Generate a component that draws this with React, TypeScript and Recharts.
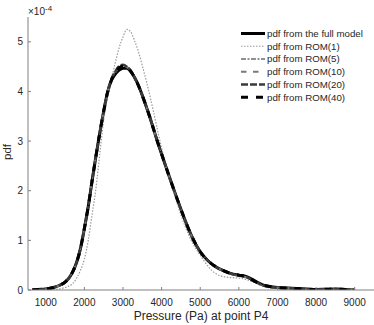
import React from 'react';
import { LineChart, Line, XAxis, YAxis, Legend } from 'recharts';

// Pressure (Pa) sample points
const pressure = [
  650, 800, 1000, 1200, 1400,
  1500, 1600, 1700, 1800, 1900,
  2000, 2100, 2200, 2300, 2400,
  2500, 2600, 2700, 2800, 2900,
  3000, 3100, 3200, 3300, 3400,
  3500, 3600, 3700, 3800, 3900,
  4000, 4200, 4400, 4600, 4800,
  5000, 5200, 5400, 5600, 5800,
  6000, 6200, 6400, 6600, 6800,
  7000, 7250, 7500, 7750, 8000,
  8250, 8500, 8750, 9000,
];

// pdf values in units of 1e-4
const fullModel = [
  0, 0.01, 0.02, 0.05, 0.11,
  0.16, 0.24, 0.37, 0.56, 0.84,
  1.24, 1.68, 2.2, 2.7, 3.17,
  3.6, 3.98, 4.22, 4.35, 4.43,
  4.47, 4.47, 4.4, 4.28, 4.12,
  3.92, 3.7, 3.47, 3.22, 2.97,
  2.74, 2.28, 1.84, 1.42, 1.05,
  0.77, 0.59, 0.47, 0.39, 0.33,
  0.3, 0.27, 0.19, 0.11, 0.07,
  0.05, 0.04, 0.03, 0.02, 0.01,
  0.015, 0.02, 0.01, 0,
];

const rom1 = [
  0, 0, 0.005, 0.01, 0.03,
  0.05, 0.08, 0.13, 0.24, 0.4,
  0.62, 1.0, 1.52, 2.05, 2.75,
  3.42, 3.9, 4.25, 4.58, 4.88,
  5.1, 5.25, 5.2, 5.02, 4.8,
  4.52, 4.22, 3.9, 3.56, 3.2,
  2.86, 2.25, 1.75, 1.3, 0.95,
  0.7, 0.48, 0.33, 0.27, 0.25,
  0.24, 0.21, 0.15, 0.09, 0.05,
  0.03, 0.02, 0.01, 0.01, 0.005,
  0.005, 0.005, 0, 0,
];

const rom5 = [
  0, 0.01, 0.02, 0.05, 0.11,
  0.16, 0.24, 0.37, 0.56, 0.84,
  1.24, 1.68, 2.2, 2.7, 3.17,
  3.6, 3.99, 4.25, 4.4, 4.5,
  4.53, 4.5, 4.42, 4.29, 4.12,
  3.92, 3.7, 3.47, 3.22, 2.97,
  2.74, 2.28, 1.84, 1.42, 1.05,
  0.77, 0.59, 0.47, 0.38, 0.32,
  0.29, 0.26, 0.17, 0.1, 0.06,
  0.05, 0.04, 0.03, 0.02, 0.01,
  0.015, 0.02, 0.01, 0,
];

const rom10 = [
  0, 0.01, 0.02, 0.05, 0.11,
  0.16, 0.24, 0.37, 0.56, 0.84,
  1.24, 1.68, 2.2, 2.7, 3.17,
  3.6, 3.99, 4.24, 4.38, 4.49,
  4.52, 4.49, 4.41, 4.28, 4.12,
  3.92, 3.7, 3.47, 3.22, 2.97,
  2.74, 2.28, 1.84, 1.42, 1.05,
  0.77, 0.59, 0.47, 0.38, 0.32,
  0.28, 0.25, 0.17, 0.1, 0.06,
  0.05, 0.04, 0.03, 0.02, 0.01,
  0.015, 0.02, 0.01, 0,
];

const rom20 = [
  0, 0.01, 0.02, 0.05, 0.11,
  0.16, 0.24, 0.37, 0.56, 0.84,
  1.24, 1.68, 2.2, 2.7, 3.17,
  3.6, 3.99, 4.25, 4.4, 4.51,
  4.54, 4.5, 4.42, 4.28, 4.12,
  3.92, 3.7, 3.47, 3.22, 2.97,
  2.74, 2.28, 1.84, 1.42, 1.05,
  0.77, 0.59, 0.47, 0.39, 0.33,
  0.29, 0.26, 0.18, 0.1, 0.06,
  0.05, 0.04, 0.03, 0.02, 0.01,
  0.015, 0.02, 0.01, 0,
];

const rom40 = [
  0, 0.01, 0.02, 0.05, 0.11,
  0.16, 0.24, 0.37, 0.56, 0.84,
  1.24, 1.68, 2.2, 2.7, 3.17,
  3.6, 3.98, 4.23, 4.37, 4.48,
  4.51, 4.49, 4.41, 4.28, 4.12,
  3.92, 3.7, 3.47, 3.22, 2.97,
  2.74, 2.28, 1.84, 1.42, 1.05,
  0.77, 0.59, 0.47, 0.39, 0.33,
  0.3, 0.27, 0.18, 0.11, 0.07,
  0.05, 0.04, 0.03, 0.02, 0.01,
  0.015, 0.02, 0.01, 0,
];

const xTicks = [1000, 2000, 3000, 4000, 5000, 6000, 7000, 8000, 9000];
const yTicks = [0, 1, 2, 3, 4, 5];

const seriesNames = [
  'pdf from the full model',
  'pdf from ROM(1)',
  'pdf from ROM(5)',
  'pdf from ROM(10)',
  'pdf from ROM(20)',
  'pdf from ROM(40)',
];
const seriesKeys = ['full', 'rom1', 'rom5', 'rom10', 'rom20', 'rom40'];
const seriesValues = [fullModel, rom1, rom5, rom10, rom20, rom40];

const seriesStyles = [
  { stroke: '#000000', width: 3, dash: undefined as string | undefined },
  { stroke: '#9a9a9a', width: 1.2, dash: '1.5 1.5' },
  { stroke: '#6e6e6e', width: 1.5, dash: '5 1.5 2 1.5' },
  { stroke: '#7a7a7a', width: 2, dash: '5.5 6.5' },
  { stroke: '#3a3a3a', width: 2.5, dash: '7 2' },
  { stroke: '#000000', width: 3, dash: '7 8' },
];

const data = pressure.map((p, i) => {
  const row: Record<string, number> = { p };
  seriesKeys.forEach((k, j) => {
    row[k] = seriesValues[j][i];
  });
  return row;
});

const FONT = '"Liberation Sans", Arial, Helvetica, sans-serif';
const TEXT = '#262626';
const AXIS = '#808080';

const LegendBox = () => (
  <svg width={134} height={80} style={{ display: 'block' }}>
    {seriesNames.map((name, i) => {
      const y = 8.5 + i * 12.75;
      const s = seriesStyles[i];
      return (
        <g key={name}>
          <line
            x1={1}
            x2={25}
            y1={y}
            y2={y}
            stroke={s.stroke}
            strokeWidth={s.width}
            strokeDasharray={s.dash}
          />
          <text
            x={27}
            y={y + 3.4}
            fontSize={9.7}
            fontFamily={FONT}
            fill={TEXT}
          >
            {name}
          </text>
        </g>
      );
    })}
  </svg>
);

export default function App() {
  return (
    <div style={{ position: 'absolute', left: 0, top: 0, width: 374, height: 325, background: '#fff' }}>
      <LineChart
        width={374}
        height={325}
        data={data}
        margin={{ top: 17, right: 0, left: 0, bottom: 0 }}
        style={{ fontFamily: FONT }}
      >
        <XAxis
          dataKey="p"
          type="number"
          domain={[540, 9500]}
          ticks={xTicks}
          allowDataOverflow
          height={35}
          stroke={AXIS}
          tickSize={-3}
          tickMargin={12}
          tick={{ fontSize: 10, fill: TEXT, fontFamily: FONT }}
          label={{
            value: 'Pressure (Pa) at point P4',
            position: 'insideBottom',
            offset: 5,
            fontSize: 12,
            fill: TEXT,
            fontFamily: FONT,
          }}
        />
        <YAxis
          type="number"
          domain={[0, 5.5]}
          ticks={yTicks}
          allowDataOverflow
          width={28}
          stroke={AXIS}
          tickSize={-3}
          tickMargin={8}
          tick={{ fontSize: 10, fill: TEXT, fontFamily: FONT }}
        />
        <Legend
          layout="horizontal"
          verticalAlign="middle"
          align="center"
          wrapperStyle={{ left: 240, top: 25, width: 134, height: 80 }}
          content={() => <LegendBox />}
        />
        {seriesKeys.map((k, i) => (
          <Line
            key={k}
            type="monotone"
            dataKey={k}
            name={seriesNames[i]}
            stroke={seriesStyles[i].stroke}
            strokeWidth={seriesStyles[i].width}
            strokeDasharray={seriesStyles[i].dash}
            dot={false}
            activeDot={false}
            isAnimationActive={false}
          />
        ))}
      </LineChart>
      <svg
        width={374}
        height={325}
        style={{ position: 'absolute', left: 0, top: 0, pointerEvents: 'none' }}
      >
        <text x={28} y={15} fontSize={10} fontFamily={FONT} fill={TEXT}>
          ×10
          <tspan dy={-4} fontSize={8}>-4</tspan>
        </text>
        <text
          x={10.5}
          y={152}
          fontSize={11.5}
          fontFamily={FONT}
          fill={TEXT}
          textAnchor="middle"
          transform="rotate(-90 10.5 152)"
        >
          pdf
        </text>
      </svg>
    </div>
  );
}
